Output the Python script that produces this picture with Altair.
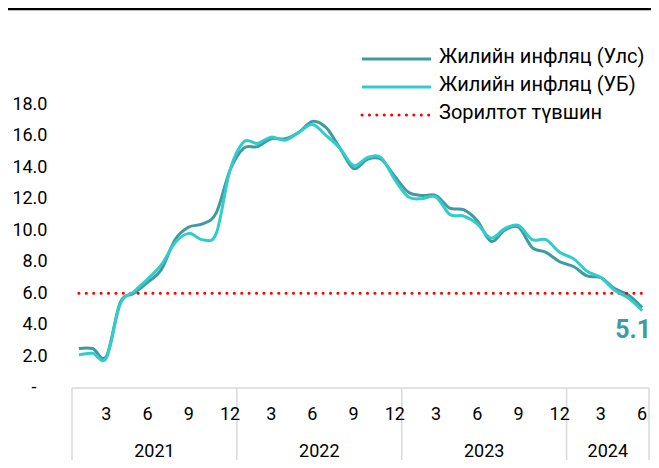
import altair as alt
import pandas as pd

# ---- data ----
month_idx = list(range(42))  # Jan 2021 .. Jun 2024
ulus = [2.5, 2.5, 2.0, 5.4, 6.0, 6.7, 7.5, 9.4, 10.2, 10.4, 11.1, 13.8,
        15.2, 15.3, 15.8, 15.8, 16.2, 16.9, 16.5, 15.2, 13.9, 14.5, 14.5, 13.4,
        12.4, 12.2, 12.2, 11.4, 11.3, 10.6, 9.3, 10.0, 10.2, 8.9, 8.6, 8.0,
        7.7, 7.1, 7.0, 6.3, 5.9, 5.1]
ub = [2.1, 2.2, 1.9, 5.3, 6.1, 6.9, 7.8, 9.2, 9.8, 9.4, 9.8, 13.8,
      15.6, 15.5, 15.9, 15.7, 16.2, 16.7, 16.0, 15.2, 14.1, 14.6, 14.6, 13.2,
      12.1, 12.0, 12.1, 11.0, 10.9, 10.4, 9.5, 10.1, 10.3, 9.4, 9.4, 8.6,
      8.2, 7.4, 7.0, 6.2, 5.7, 4.9]
target = 6.0
series_names = ["Жилийн инфляц (Улс)", "Жилийн инфляц (УБ)", "Зорилтот түвшин"]
tick_idx = [2, 5, 8, 11, 14, 17, 20, 23, 26, 29, 32, 35, 38, 41]
tick_labels = ["3", "6", "9", "12", "3", "6", "9", "12", "3", "6", "9", "12", "3", "6"]
years = ["2021", "2022", "2023", "2024"]
year_start = [-0.5, 11.5, 23.5, 35.5]
year_end = [11.5, 23.5, 35.5, 41.5]
y_ticks = [0, 2, 4, 6, 8, 10, 12, 14, 16, 18]

C_ULS = "#3E9CA0"
C_UB = "#33CCCC"
GRID = "#D9D9D9"
FONT = "Roboto"

W, H = 577, 284
PB = 72
xs = alt.Scale(domain=[-0.5, 41.5], nice=False, zero=False)
ys = alt.Scale(domain=[0, 18], nice=False)


def Y(field):
    return alt.Y(field, scale=ys, axis=alt.Axis(
        values=y_ticks,
        labelExpr="datum.value == 0 ? '' : format(datum.value, '.1f')",
        domain=False, ticks=False, grid=False, labelPadding=25,
        labelFont=FONT, labelFontSize=18, labelColor="#000000", title=None))


def X(field):
    return alt.X(field, scale=xs, axis=None)


df_uls = pd.DataFrame({"idx": month_idx, "value": ulus})
df_ub = pd.DataFrame({"idx": month_idx, "value": ub})

line_uls = alt.Chart(df_uls).mark_line(color=C_ULS, strokeWidth=3, interpolate="cardinal").encode(
    x=X("idx:Q"), y=Y("value:Q"))
line_ub = alt.Chart(df_ub).mark_line(color=C_UB, strokeWidth=3, interpolate="cardinal").encode(
    x=X("idx:Q"), y=Y("value:Q"))

df_target = pd.DataFrame({"x": [month_idx[0]], "x2": [month_idx[-1]], "y": [target]})
target_rule = alt.Chart(df_target).mark_rule(color="#FF0000", strokeWidth=3,
                                             strokeDash=[0.1, 7.3], strokeCap="round").encode(
    x=X("x:Q"), x2="x2:Q", y=Y("y:Q"))

# zero dash label
df_zero = pd.DataFrame({"y": [0], "t": ["-"]})
zero_lbl = alt.Chart(df_zero).mark_text(font=FONT, fontSize=18, color="#000000",
                                        align="center", baseline="middle").encode(
    x=alt.value(-38), y=Y("y:Q"), text="t:N")

# x axis box
df_top = pd.DataFrame({"x": [-0.5], "x2": [41.5], "y": [0]})
top_line = alt.Chart(df_top).mark_rule(color=GRID, strokeWidth=1.5).encode(
    x=X("x:Q"), x2="x2:Q", y=Y("y:Q"))

df_sep = pd.DataFrame({"x": year_start + [year_end[-1]]})
seps = alt.Chart(df_sep).mark_rule(color=GRID, strokeWidth=1.5).encode(
    x=X("x:Q"), y=alt.value(H), y2=alt.value(H + PB))

df_ticks = pd.DataFrame({"x": tick_idx, "t": tick_labels})
month_lbl = alt.Chart(df_ticks).mark_text(font=FONT, fontSize=18, color="#000000",
                                          baseline="middle").encode(
    x=X("x:Q"), y=alt.value(H + 27), text="t:N")

df_years = pd.DataFrame({"s": year_start, "e": year_end, "t": years})
year_lbl = alt.Chart(df_years).transform_calculate(c="(datum.s + datum.e) / 2").mark_text(
    font=FONT, fontSize=18, color="#000000", baseline="middle").encode(
    x=X("c:Q"), y=alt.value(H + 64), text="t:N")

# end label
df_end = pd.DataFrame({"x": [month_idx[-1]], "y": [ulus[-1]], "t": [f"{ulus[-1]:.1f}"]})
end_lbl = alt.Chart(df_end).mark_text(font=FONT, fontSize=25, fontWeight="bold", color=C_ULS,
                                      baseline="middle", dx=-9, dy=22).encode(
    x=X("x:Q"), y=Y("y:Q"), text="t:N")

# manual legend
leg_rows = [-45, -17, 11]
leg_colors = [C_ULS, C_UB, "#FF0000"]
df_leg = pd.DataFrame({"t": series_names, "c": leg_colors, "row": leg_rows})
leg_solid = alt.Chart(df_leg.iloc[0:2]).mark_rule(strokeWidth=3).encode(
    x=alt.value(290), x2=alt.value(359), y=alt.Y("row:Q", scale=None, axis=None),
    color=alt.Color("c:N", scale=None))
leg_dot = alt.Chart(df_leg.iloc[2:3]).mark_rule(strokeWidth=3, color="#FF0000",
                                                strokeDash=[0.1, 7.3], strokeCap="round").encode(
    x=alt.value(290), x2=alt.value(359), y=alt.Y("row:Q", scale=None, axis=None))
leg_text = alt.Chart(df_leg).mark_text(font=FONT, fontSize=20, color="#000000",
                                       align="left", baseline="middle", dy=-2).encode(
    x=alt.value(367), y=alt.Y("row:Q", scale=None, axis=None), text="t:N")

# top black border at the top edge of the canvas
border = alt.Chart(df_leg.iloc[0:1]).mark_rule(color="#000000", strokeWidth=2.5).encode(
    x=alt.value(-64), x2=alt.value(W + 2), y=alt.value(-95))

chart = alt.layer(
    line_uls, top_line, seps, month_lbl, year_lbl, target_rule, line_ub, end_lbl, zero_lbl,
    leg_solid, leg_dot, leg_text, border
).resolve_scale(y="shared").properties(
    width=W, height=H,
    padding={"left": 64, "top": 96, "right": 2, "bottom": PB},
    autosize=alt.AutoSizeParams(type="none"),
).configure_view(strokeWidth=0)

chart.save("out.html", embed_options={"renderer": "svg", "actions": False})
